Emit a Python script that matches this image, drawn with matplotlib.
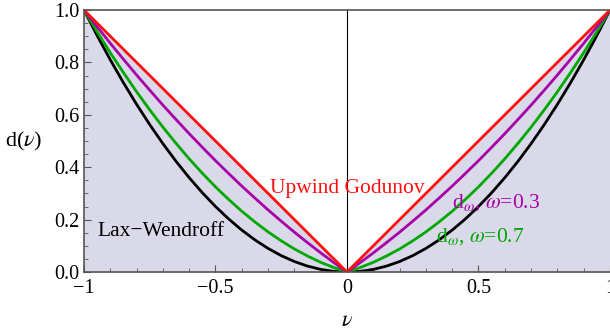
import matplotlib.pyplot as plt
from matplotlib.ticker import MultipleLocator

# values for nu >= 0 (curves are symmetric about nu = 0)
nu_half = [0.0, 0.05, 0.1, 0.15, 0.2, 0.25, 0.3, 0.35, 0.4, 0.45, 0.5,
           0.55, 0.6, 0.65, 0.7, 0.75, 0.8, 0.85, 0.9, 0.95, 1.0]
lax_half = [0.0, 0.0025, 0.01, 0.0225, 0.04, 0.0625, 0.09, 0.1225, 0.16, 0.2025, 0.25,
            0.3025, 0.36, 0.4225, 0.49, 0.5625, 0.64, 0.7225, 0.81, 0.9025, 1.0]
w03_half = [0.0, 0.036, 0.073, 0.112, 0.152, 0.194, 0.237, 0.282, 0.328, 0.376, 0.425,
            0.476, 0.528, 0.582, 0.637, 0.694, 0.752, 0.812, 0.873, 0.936, 1.0]
w07_half = [0.0, 0.017, 0.037, 0.061, 0.088, 0.119, 0.153, 0.191, 0.232, 0.277, 0.325,
            0.377, 0.432, 0.491, 0.553, 0.619, 0.688, 0.761, 0.837, 0.917, 1.0]
upwind_nu = [-1.0, 0.0, 1.0]
upwind_d = [1.0, 0.0, 1.0]


def mirror(vals, neg=False):
    left = [-v for v in vals[:0:-1]] if neg else list(vals[:0:-1])
    return left + list(vals)


nu = mirror(nu_half, neg=True)
lax = mirror(lax_half)
w03 = mirror(w03_half)
w07 = mirror(w07_half)

plt.rcParams['font.family'] = ['Liberation Serif', 'DejaVu Serif']
plt.rcParams['mathtext.fontset'] = 'stix'

fig = plt.figure(figsize=(6.1, 3.34), dpi=100)
ax = fig.add_axes([0.1377, 0.1856, 0.8623, 0.7844])

ax.fill_between(upwind_nu, 0, upwind_d, color='#d9d9e9', lw=0)
ax.axvline(0, color='black', lw=0.8)
ax.plot(nu, lax, color='black', lw=2)
ax.plot(nu, w07, color='#00a800', lw=2)
ax.plot(nu, w03, color='#a800a8', lw=2)
ax.plot(upwind_nu, upwind_d, color='#ff1010', lw=2)

ax.set_xlim(-1, 1)
ax.set_ylim(0, 1)
ax.set_xticks([-1, -0.5, 0, 0.5, 1])
ax.set_xticklabels(['\u22121', '\u22120.5', '0', '0.5', '1'])
ax.set_yticks([0, 0.2, 0.4, 0.6, 0.8, 1.0])
ax.set_yticklabels(['0.0', '0.2', '0.4', '0.6', '0.8', '1.0'])
ax.yaxis.set_minor_locator(MultipleLocator(0.05))
ax.xaxis.set_minor_locator(MultipleLocator(0.1))
ax.tick_params(direction='in', labelsize=14.5, length=5, width=0.8, color='#555555')
ax.tick_params(which='minor', direction='in', length=3, width=0.6, color='#555555')
ax.tick_params(axis='x', pad=5)
ax.tick_params(axis='y', pad=3)
for s in ['left', 'bottom', 'top']:
    ax.spines[s].set_color('#555555')
    ax.spines[s].set_linewidth(1.2)
ax.spines['right'].set_visible(False)

ax.set_xlabel(r'$\nu$', fontsize=16, labelpad=10)
ax.set_ylabel(r'd($\nu$)', fontsize=16, rotation=0, va='center', labelpad=22)

ax.text(0.0, 0.317, 'Upwind Godunov', color='#ff1010', fontsize=15.5, ha='center', va='center')
ax.text(-0.95, 0.156, 'Lax\u2212Wendroff', color='black', fontsize=15.5, ha='left', va='center')
ax.text(0.4, 0.267, r'd$_\omega$, $\omega$=0.3', color='#a800a8', fontsize=15.5, ha='left', va='center')
ax.text(0.34, 0.137, r'd$_\omega$, $\omega$=0.7', color='#00a800', fontsize=15.5, ha='left', va='center')

fig.savefig('out.png', dpi=100)
